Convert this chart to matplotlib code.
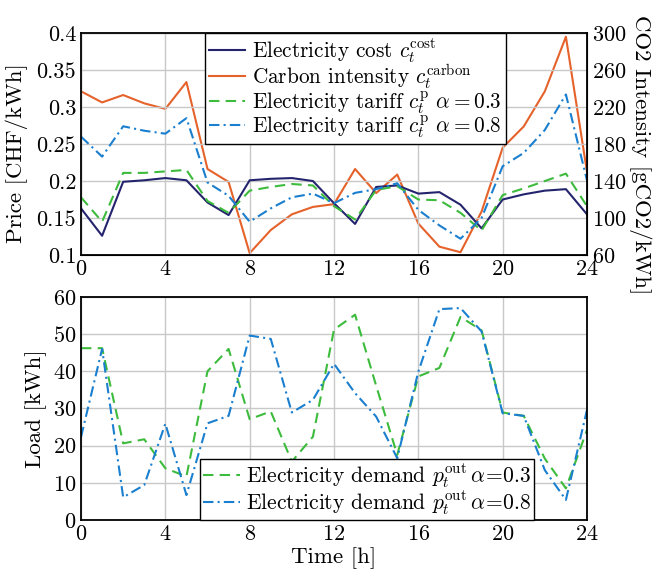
import numpy as np
import matplotlib; matplotlib.use("Agg")
import matplotlib.pyplot as plt
from matplotlib.ticker import FuncFormatter

plt.rcParams.update({
    "font.family": "cmr10",
    "mathtext.fontset": "cm",
    "axes.unicode_minus": False,
    "axes.formatter.use_mathtext": True,
})

hours = np.arange(25)

# top panel: prices [CHF/kWh] and carbon intensity [gCO2/kWh]
cost = [0.163, 0.126, 0.199, 0.201, 0.204, 0.201, 0.171, 0.154, 0.201, 0.203,
        0.204, 0.200, 0.170, 0.142, 0.192, 0.194, 0.183, 0.185, 0.168, 0.136,
        0.175, 0.182, 0.187, 0.189, 0.155]
carbon = [237, 225, 233, 224, 218, 247, 153, 139, 62, 87,
          104, 112, 115, 153, 127, 147, 94, 69, 63, 107,
          176, 199, 237, 296, 150]
tariff_03 = [0.178, 0.145, 0.211, 0.211, 0.213, 0.215, 0.173, 0.157, 0.187, 0.192,
             0.196, 0.194, 0.166, 0.148, 0.188, 0.193, 0.175, 0.174, 0.157, 0.133,
             0.181, 0.190, 0.200, 0.210, 0.166]
tariff_08 = [0.260, 0.233, 0.274, 0.268, 0.264, 0.285, 0.198, 0.180, 0.145, 0.163,
             0.178, 0.183, 0.170, 0.184, 0.189, 0.197, 0.161, 0.140, 0.122, 0.150,
             0.220, 0.238, 0.269, 0.317, 0.201]

# bottom panel: electricity demand [kWh]
demand_03 = [46.2, 46.2, 20.6, 21.7, 13.9, 11.7, 40.0, 46.0, 27.1, 29.2,
             15.7, 22.4, 51.2, 55.2, 36.1, 17.5, 38.6, 40.9, 54.6, 51.0,
             28.9, 28.0, 16.5, 8.5, 24.2]
demand_08 = [22.3, 46.0, 6.1, 9.4, 25.9, 6.7, 26.0, 28.0, 49.6, 48.7,
             28.9, 32.3, 42.0, 34.1, 27.8, 16.6, 39.9, 56.7, 57.0, 50.7,
             28.7, 28.0, 13.4, 5.4, 29.6]

NAVY, ORANGE, GREEN, BLUE = "#24246e", "#e5622b", "#3dbb3d", "#1a7fcf"
FS = 16
LW = 1.5

fig = plt.figure(figsize=(6.56, 5.75), dpi=100)
ax1 = fig.add_axes([0.1235, 0.5565, 0.7713, 0.386])
ax2 = fig.add_axes([0.1235, 0.0957, 0.7713, 0.388])

def style(ax):
    ax.grid(True, color="#c8c8c8", lw=1.0)
    ax.set_axisbelow(True)
    ax.tick_params(direction="in", length=0, labelsize=FS)
    for s in ax.spines.values():
        s.set_linewidth(1.3)
    ax.set_xlim(0, 24)
    ax.set_xticks(range(0, 25, 4))

# ── Top panel ────────────────────────────────────────────────────────────────
style(ax1)
l1, = ax1.plot(hours, cost, color=NAVY, lw=LW)
l3, = ax1.plot(hours, tariff_03, color=GREEN, lw=LW, ls=(0, (5, 3)))
l4, = ax1.plot(hours, tariff_08, color=BLUE, lw=LW, ls=(0, (5, 2, 1, 2)))
ax1.set_ylim(0.1, 0.4)
ax1.set_yticks(np.arange(0.1, 0.401, 0.05))
ax1.yaxis.set_major_formatter(FuncFormatter(lambda v, p: "%g" % round(v, 2)))
ax1.set_ylabel("Price [CHF/kWh]", fontsize=16.5)
ax1.yaxis.set_label_coords(-0.105, 0.46)

ax1r = ax1.twinx()
l2, = ax1r.plot(hours, carbon, color=ORANGE, lw=LW)
ax1r.set_ylim(60, 300)
ax1r.set_yticks(range(60, 301, 40))
ax1r.tick_params(direction="in", length=0, labelsize=FS)
ax1r.set_ylabel("CO2 Intensity [gCO2/kWh]", fontsize=16.5, rotation=-90,
                va="center")
ax1r.yaxis.set_label_coords(1.105, 0.45)

ax1.legend([l1, l2, l3, l4],
           [r"Electricity cost $c_t^{\mathrm{cost}}$",
            r"Carbon intensity $c_t^{\mathrm{carbon}}$",
            r"Electricity tariff $c_t^{\mathrm{p}}$ $\alpha = 0.3$",
            r"Electricity tariff $c_t^{\mathrm{p}}$ $\alpha = 0.8$"],
           loc="upper left", bbox_to_anchor=(0.245, 1.0), borderaxespad=0,
           fontsize=15.3, fancybox=False, framealpha=1, edgecolor="black",
           handlelength=1.7, handletextpad=0.3, labelspacing=-0.12,
           borderpad=0.2).set_zorder(5)
ax1r.set_zorder(ax1.get_zorder() - 1)
ax1.patch.set_visible(False)

# ── Bottom panel ─────────────────────────────────────────────────────────────
style(ax2)
ax2.plot(hours, demand_03, color=GREEN, lw=LW, ls=(0, (5, 3)),
         label=r"Electricity demand $p_t^{\mathrm{out}}\,\alpha\!=\!0.3$")
ax2.plot(hours, demand_08, color=BLUE, lw=LW, ls=(0, (5, 2, 1, 2)),
         label=r"Electricity demand $p_t^{\mathrm{out}}\,\alpha\!=\!0.8$")
ax2.set_ylim(0, 60)
ax2.set_yticks(range(0, 61, 10))
ax2.set_ylabel("Load [kWh]", fontsize=16.5)
ax2.set_xlabel("Time [h]", fontsize=16.5, labelpad=2)
ax2.legend(loc="lower left", bbox_to_anchor=(0.235, 0.0), borderaxespad=0,
           fontsize=15.5, fancybox=False, framealpha=1, edgecolor="black",
           handlelength=1.7, handletextpad=0.3, labelspacing=-0.05,
           borderpad=0.15)

fig.savefig("out.png", dpi=100)
